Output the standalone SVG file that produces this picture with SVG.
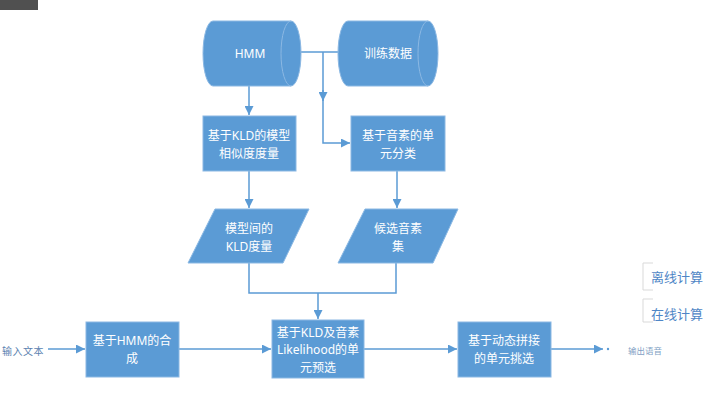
<svg xmlns="http://www.w3.org/2000/svg" width="705" height="406" viewBox="0 0 705 406">
<defs>
<style>
.shape{fill:#5b9bd5;stroke:#8bb8e3;stroke-width:1}
.inner{fill:none;stroke:#8bb8e3;stroke-width:1}
.t{font-family:"Noto Sans","Noto Sans CJK SC",sans-serif;font-size:12px;fill:#ffffff;text-anchor:middle;dominant-baseline:central}
.c{fill:none;stroke:#5b9bd5;stroke-width:1.5}
.lg{font-family:"Noto Sans CJK SC",sans-serif;font-size:13px;fill:#4f86c6;dominant-baseline:central}
.br{fill:none;stroke:#d9d9d9;stroke-width:1}
.io{font-family:"Noto Sans CJK SC",sans-serif;fill:#5a7fb0;dominant-baseline:central}
</style>
<marker id="ah2" viewBox="0 0 10 10" refX="10" refY="5" markerWidth="9" markerHeight="9" orient="auto" markerUnits="userSpaceOnUse">
<path d="M0,0 L10,5 L0,10 Z" fill="#5b9bd5"/>
</marker>
</defs>
<rect x="0" y="0" width="38" height="10" fill="#505050"/>

<g id="connectors">
<path class="c" d="M301,52 L338,52"/>
<path class="c" d="M323,52 L323,143 L350,143" marker-end="url(#ah2)"/>
<path class="c" d="M323,90 L323,101" marker-end="url(#ah2)"/>
<path class="c" d="M249,86 L249,115" marker-end="url(#ah2)"/>
<path class="c" d="M249,171 L249,208" marker-end="url(#ah2)"/>
<path class="c" d="M397,171 L397,208" marker-end="url(#ah2)"/>
<path class="c" d="M249,263 L249,293 L396,293 L396,263"/>
<path class="c" d="M318,293 L318,319" marker-end="url(#ah2)"/>
<path class="c" d="M48,349 L85,349" marker-end="url(#ah2)"/>
<path class="c" d="M179,349 L271,349" marker-end="url(#ah2)"/>
<path class="c" d="M364,349 L457,349" marker-end="url(#ah2)"/>
<path class="c" d="M551,349 L603,349" marker-end="url(#ah2)"/>
<circle cx="608" cy="349" r="1.2" fill="#5b9bd5"/>
</g>

<g id="hmm">
<path class="shape" d="M213,21 L291,21 A10,32.5 0 0 1 291,86 L213,86 A10,32.5 0 0 1 213,21 Z"/>
<path class="inner" d="M291,21 A10,32.5 0 0 0 291,86"/>
<text class="t" x="250" y="53">HMM</text>
</g>
<g id="train">
<path class="shape" d="M348,21 L428,21 A10,32.5 0 0 1 428,86 L348,86 A10,32.5 0 0 1 348,21 Z"/>
<path class="inner" d="M428,21 A10,32.5 0 0 0 428,86"/>
<text class="t" x="388" y="53">训练数据</text>
</g>
<g id="kld-sim">
<rect class="shape" x="203" y="116" width="93" height="55"/>
<text class="t" x="249" y="135">基于KLD的模型</text>
<text class="t" x="249" y="153">相似度度量</text>
</g>
<g id="phone-class">
<rect class="shape" x="351" y="116" width="94" height="55"/>
<text class="t" x="398" y="135">基于音素的单</text>
<text class="t" x="398" y="153">元分类</text>
</g>
<g id="kld-measure">
<path class="shape" d="M215,209 L309,209 L283,263 L188,263 Z"/>
<text class="t" x="249" y="228">模型间的</text>
<text class="t" x="249" y="246">KLD度量</text>
</g>
<g id="candidates">
<path class="shape" d="M365,209 L458,209 L433,263 L338,263 Z"/>
<text class="t" x="398" y="228">候选音素</text>
<text class="t" x="398" y="246">集</text>
</g>
<g id="input">
<text class="io" x="2" y="350" font-size="10" letter-spacing="0.5">输入文本</text>
</g>
<g id="hmm-synth">
<rect class="shape" x="86" y="322" width="93" height="55"/>
<text class="t" x="132" y="340">基于HMM的合</text>
<text class="t" x="132" y="358">成</text>
</g>
<g id="preselect">
<rect class="shape" x="272" y="320" width="92" height="58"/>
<text class="t" x="318" y="332">基于KLD及音素</text>
<text class="t" x="318" y="349">Likelihood的单</text>
<text class="t" x="318" y="367">元预选</text>
</g>
<g id="unit-select">
<rect class="shape" x="458" y="322" width="93" height="55"/>
<text class="t" x="504" y="340">基于动态拼接</text>
<text class="t" x="504" y="358">的单元挑选</text>
</g>
<g id="output">
<text class="io" x="628" y="350" font-size="8.5" style="fill:#7f9fc4">输出语音</text>
</g>
<g id="legend">
<path class="br" d="M653,263 L643,263 L643,290 L653,290"/>
<text class="lg" x="651" y="276">离线计算</text>
<path class="br" d="M653,299 L643,299 L643,322 L653,322"/>
<text class="lg" x="651" y="313">在线计算</text>
</g>
</svg>
